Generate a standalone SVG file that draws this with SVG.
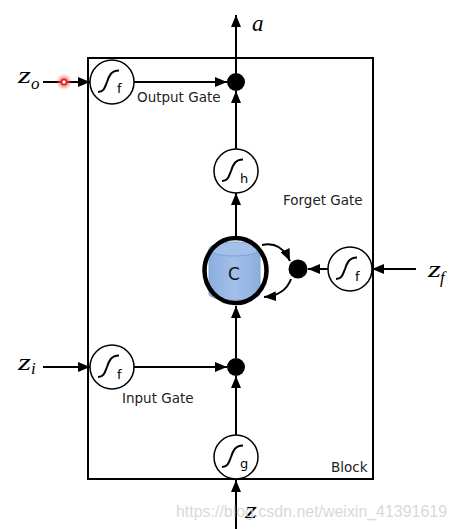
<svg xmlns="http://www.w3.org/2000/svg" width="456" height="529" viewBox="0 0 456 529">
<style>
.ln{stroke:#000;stroke-width:2;fill:none}
.gate{fill:#fff;stroke:#000;stroke-width:1.5}
.sig{fill:none;stroke:#000;stroke-width:2}
.sub{font-family:"DejaVu Sans",sans-serif;font-size:13px;fill:#000}
.lbl{font-family:"DejaVu Sans",sans-serif;font-size:13.5px;fill:#222}
.math{font-family:"Liberation Serif",serif;font-style:italic;font-size:23px;fill:#000}
.msub{font-family:"Liberation Serif",serif;font-style:italic;font-size:17px;fill:#000}
.dot{fill:#000}
</style>
<defs>
<marker id="ah" viewBox="0 0 12 10" refX="12" refY="5" markerWidth="12" markerHeight="10" markerUnits="userSpaceOnUse" orient="auto">
<path d="M0,0 L12,5 L0,10 Z" fill="#000"/>
</marker>
<linearGradient id="cyl" x1="0" x2="1" y1="0" y2="0">
<stop offset="0" stop-color="#8caede"/>
<stop offset="0.5" stop-color="#a3c0ea"/>
<stop offset="1" stop-color="#8caede"/>
</linearGradient>
<radialGradient id="glow">
<stop offset="0.3" stop-color="#ff4040" stop-opacity="0.9"/>
<stop offset="1" stop-color="#ff8080" stop-opacity="0"/>
</radialGradient>
<g id="sigmoid"><path class="sig" d="M-14,11 C-8,11 -7,6 -5,1 C-3,-5 -1,-10.5 7,-10.5"/></g>
</defs>

<g id="block">
<rect x="88" y="58" width="285" height="421" fill="none" stroke="#000" stroke-width="2"/>
<text class="lbl" x="331" y="472">Block</text>
</g>

<g id="connectors">
<line class="ln" x1="43" y1="82" x2="90" y2="82" marker-end="url(#ah)"/>
<line class="ln" x1="134" y1="82" x2="227" y2="82" marker-end="url(#ah)"/>
<line class="ln" x1="236" y1="73" x2="236" y2="15" marker-end="url(#ah)"/>
<line class="ln" x1="236" y1="149" x2="236" y2="91" marker-end="url(#ah)"/>
<line class="ln" x1="236" y1="236" x2="236" y2="193" marker-end="url(#ah)"/>
<line class="ln" x1="236" y1="358" x2="236" y2="306" marker-end="url(#ah)"/>
<line class="ln" x1="236" y1="435" x2="236" y2="376" marker-end="url(#ah)"/>
<line class="ln" x1="236" y1="529" x2="236" y2="480" marker-end="url(#ah)"/>
<line class="ln" x1="43" y1="367" x2="90" y2="367" marker-end="url(#ah)"/>
<line class="ln" x1="134" y1="367" x2="227" y2="367" marker-end="url(#ah)"/>
<line class="ln" x1="416" y1="269" x2="372" y2="269" marker-end="url(#ah)"/>
<line class="ln" x1="328" y1="269" x2="308" y2="269" marker-end="url(#ah)"/>
<path class="ln" stroke-width="1.5" d="M262,245 C276,242 285,250 290,261" marker-end="url(#ah)"/>
<path class="ln" stroke-width="1.5" d="M291,279 C287,290 278,296 264,297" marker-end="url(#ah)"/>
</g>

<g id="zo">
<text class="math" x="18" y="83" textLength="13" lengthAdjust="spacingAndGlyphs">z</text><text class="msub" x="31" y="89">o</text>
<circle cx="64" cy="82" r="8" fill="url(#glow)"/>
<circle cx="64" cy="82" r="2.5" fill="#fff" stroke="#e02020" stroke-width="1.5"/>
</g>
<g id="zi"><text class="math" x="18" y="370" textLength="13" lengthAdjust="spacingAndGlyphs">z</text><text class="msub" x="31" y="374">i</text></g>
<g id="zf"><text class="math" x="428" y="277" textLength="13" lengthAdjust="spacingAndGlyphs">z</text><text class="msub" x="440" y="283">f</text></g>
<g id="a"><text class="math" x="252" y="31" font-size="25">a</text></g>
<g id="z"><text class="math" x="245" y="518" textLength="12" lengthAdjust="spacingAndGlyphs">z</text></g>

<g id="output-gate">
<circle class="gate" cx="112" cy="82" r="22"/>
<use href="#sigmoid" x="112" y="81"/>
<text class="sub" x="117" y="93">f</text>
<text class="lbl" x="137" y="102">Output Gate</text>
</g>
<g id="output-mul"><circle class="dot" cx="236" cy="82" r="9"/></g>

<g id="h">
<circle class="gate" cx="236" cy="171" r="22"/>
<use href="#sigmoid" x="236" y="170"/>
<text class="sub" x="240" y="183">h</text>
</g>
<g id="forget-label"><text class="lbl" x="283" y="205">Forget Gate</text></g>

<g id="cell">
<path d="M209,249 L209,294 A25.5,6 0 0 0 260,294 L260,249 Z" fill="url(#cyl)" stroke="#7ea2d0" stroke-width="1"/>
<ellipse cx="234.5" cy="249" rx="25.5" ry="7" fill="#a3c0ea" stroke="#7ea2d0" stroke-width="1"/>
<ellipse cx="235.5" cy="270.5" rx="31" ry="32.5" fill="none" stroke="#000" stroke-width="4.5"/>
<text x="234" y="280" text-anchor="middle" font-family="DejaVu Sans,sans-serif" font-size="17" fill="#111">C</text>
</g>

<g id="forget-mul"><circle class="dot" cx="298" cy="269" r="9.5"/></g>
<g id="forget-gate">
<circle class="gate" cx="350" cy="269" r="22"/>
<use href="#sigmoid" x="350" y="268"/>
<text class="sub" x="355" y="281">f</text>
</g>

<g id="input-gate">
<circle class="gate" cx="112" cy="367" r="22"/>
<use href="#sigmoid" x="112" y="366"/>
<text class="sub" x="117" y="379">f</text>
<text class="lbl" x="122" y="403">Input Gate</text>
</g>
<g id="input-mul"><circle class="dot" cx="236" cy="367" r="9"/></g>

<g id="g">
<circle class="gate" cx="236" cy="457" r="22"/>
<use href="#sigmoid" x="236" y="456"/>
<text class="sub" x="240" y="468">g</text>
</g>

<g id="watermark"><text x="176" y="517" font-family="Liberation Sans,sans-serif" font-size="16" fill="#d0d0d0" opacity="0.8" textLength="271" lengthAdjust="spacingAndGlyphs">https://blog.csdn.net/weixin_41391619</text></g>
</svg>
